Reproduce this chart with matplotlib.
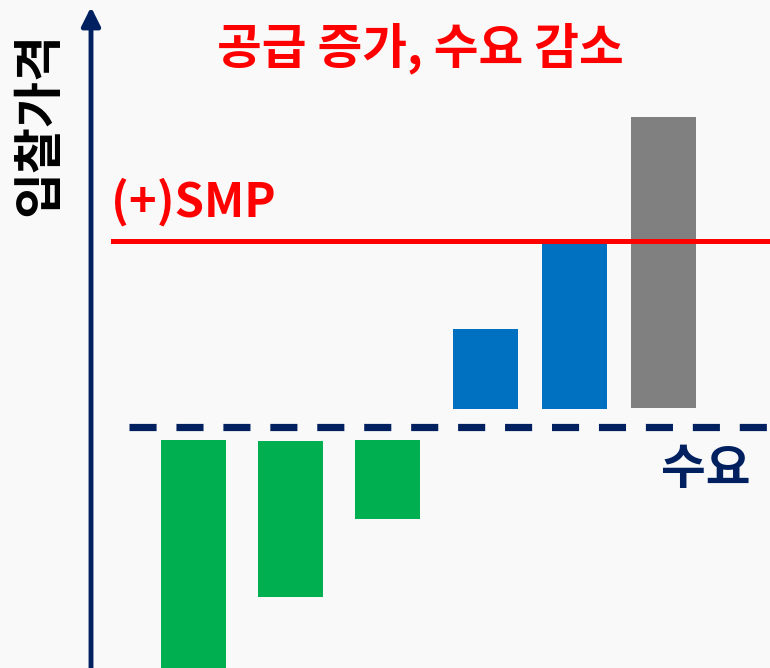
import matplotlib.pyplot as plt

plt.rcParams["font.family"] = ["Noto Sans CJK KR", "DejaVu Sans"]

# bid blocks: position, bottom and top price
pos = [19.35, 29.05, 38.75, 48.55, 57.45, 66.35]
bottoms = [0.0, 7.1, 14.9, 25.9, 25.9, 26.0]
tops = [22.8, 22.7, 22.8, 33.9, 42.7, 55.1]
colors = ["#00b050", "#00b050", "#00b050", "#0070c0", "#0070c0", "#808080"]

smp = 42.7
demand = 24.1

navy = "#002060"
bg = "#f9f9f9"

fig = plt.figure(figsize=(7.7, 6.68), dpi=100, facecolor=bg)
ax = fig.add_axes([0, 0, 1, 1], facecolor=bg)
ax.set_xlim(0, 77)
ax.set_ylim(0, 66.8)
ax.axis("off")

heights = [t - b for t, b in zip(tops, bottoms)]
ax.bar(pos, heights, width=6.5, bottom=bottoms, color=colors, zorder=2)

# price axis with arrow head
ax.annotate("", xy=(9.1, 66.1), xytext=(9.1, -1),
            arrowprops=dict(arrowstyle="-|>", color=navy, lw=3.5,
                            mutation_scale=28, shrinkA=0, shrinkB=0))

ax.plot([11.3, 77], [smp, smp], color="#ff0000", lw=3.6, zorder=3)
ax.plot([12.9, 77], [demand, demand], color=navy, lw=5.2,
        dashes=(3.75, 2.75), zorder=3)

ax.text(42.0, 62.0, "공급 증가, 수요 감소", color="#ff0000", fontsize=35,
        fontweight="bold", ha="center", va="center")
ax.text(11.1, 46.6, "(+)SMP", color="#ff0000", fontsize=34,
        fontweight="bold", ha="left", va="center")
ax.text(70.6, 19.9, "수요", color=navy, fontsize=35,
        fontweight="bold", ha="center", va="center")
ax.text(4.0, 54.4, "입찰가격", color="black", fontsize=36,
        fontweight="bold", ha="center", va="center", rotation=90)

fig.savefig("out.png", dpi=100, facecolor=bg)
